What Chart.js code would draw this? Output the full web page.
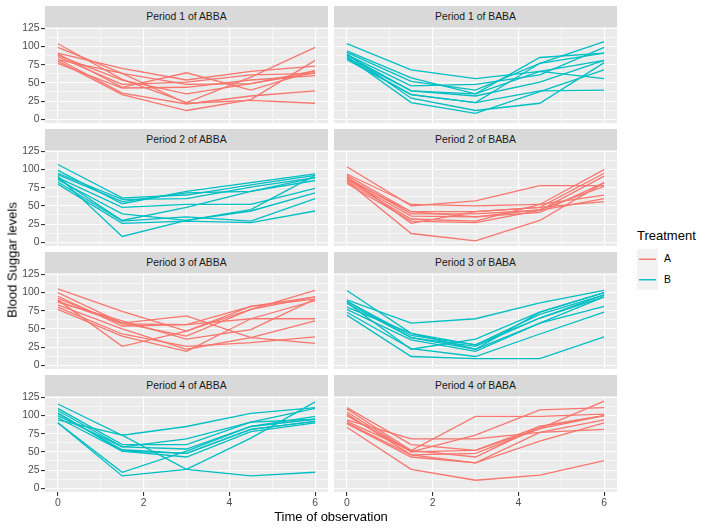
<!DOCTYPE html>
<html>
<head>
<meta charset="utf-8">
<script src="https://cdn.jsdelivr.net/npm/chart.js@4.4.1/dist/chart.umd.min.js"></script>
<style>
body { margin: 0; background: #fff; font-family: "Liberation Sans", Arial, sans-serif; }
#wrap { position: relative; width: 708px; height: 531px; overflow: hidden; }
#wrap canvas { position: absolute; }
.strip { position: absolute; background: #d9d9d9; color: #1a1a1a; font-size: 10.4px; text-align: center; height: 21px; line-height: 21px; }
.title { position: absolute; color: #000; font-size: 13px; white-space: nowrap; }
.keylab { position: absolute; font-size: 10.4px; color: #000; }
#legendKeys { position: absolute; left: 637px; top: 249px; }
</style>
</head>
<body>
<div id="wrap"></div>
<script>
// time points (x) and axis ticks
var times = [0, 1.5, 3, 4.5, 6];
var xTicks = [0, 1, 2, 3, 4, 5, 6];
var yTicks = [0, 12.5, 25, 37.5, 50, 62.5, 75, 87.5, 100, 112.5, 125];

var panelTitles = ['Period 1 of ABBA', 'Period 1 of BABA', 'Period 2 of ABBA', 'Period 2 of BABA',
                   'Period 3 of ABBA', 'Period 3 of BABA', 'Period 4 of ABBA', 'Period 4 of BABA'];
var panelTreatment = ['A', 'B', 'B', 'A', 'A', 'B', 'B', 'A'];
var treatments = ['A', 'B'];
var treatmentColors = { A: '#F8766D', B: '#00BFC4' };

// blood sugar per subject, read at times 0, 1.5, 3, 4.5, 6
var p1ABBA = [
    [104, 55, 23, 58, 99],
    [99, 63, 48, 49, 64],
    [91, 70, 54, 66, 73],
    [90, 44, 64, 40, 67],
    [86, 48, 51, 61, 63],
    [83, 36, 21, 32, 39],
    [80, 34, 12, 27, 81],
    [77, 43, 44, 54, 60],
    [88, 54, 35, 49, 67],
    [82, 63, 22, 26, 22]
];
var p1BABA = [
    [104, 68, 56, 66, 56],
    [94, 57, 35, 85, 91],
    [92, 52, 40, 77, 107],
    [89, 46, 48, 61, 99],
    [85, 39, 32, 51, 81],
    [82, 34, 23, 39, 40],
    [90, 29, 12, 22, 78],
    [86, 23, 8, 38, 68],
    [88, 39, 35, 66, 81],
    [84, 34, 23, 77, 91]
];
var p2ABBA = [
    [107, 61, 65, 79, 92],
    [99, 53, 70, 82, 94],
    [95, 59, 60, 76, 89],
    [93, 56, 68, 70, 85],
    [89, 48, 52, 52, 74],
    [86, 39, 30, 43, 68],
    [83, 29, 35, 29, 60],
    [80, 26, 29, 27, 43],
    [91, 8, 30, 45, 92],
    [88, 30, 48, 70, 89]
];
var p2BABA = [
    [104, 50, 57, 78, 78],
    [94, 52, 50, 52, 100],
    [92, 42, 42, 48, 95],
    [89, 39, 39, 44, 91],
    [86, 36, 35, 41, 82],
    [84, 32, 29, 52, 65],
    [81, 29, 27, 44, 60],
    [90, 26, 42, 48, 56],
    [84, 12, 2, 30, 82],
    [87, 42, 35, 45, 77]
];
var p3ABBA = [
    [105, 74, 47, 77, 103],
    [100, 58, 68, 38, 30],
    [95, 54, 56, 64, 64],
    [90, 26, 47, 81, 94],
    [87, 61, 36, 49, 91],
    [83, 50, 22, 38, 61],
    [80, 43, 26, 31, 39],
    [77, 40, 19, 64, 89],
    [88, 58, 40, 77, 94],
    [92, 57, 56, 81, 91]
];
var p3BABA = [
    [103, 44, 22, 73, 100],
    [90, 58, 64, 86, 103],
    [88, 41, 28, 70, 97],
    [85, 38, 26, 65, 94],
    [77, 35, 19, 58, 81],
    [73, 23, 12, 43, 73],
    [69, 12, 9, 9, 39],
    [86, 22, 36, 73, 100],
    [80, 44, 28, 65, 97],
    [88, 38, 22, 58, 94]
];
var p4ABBA = [
    [116, 73, 85, 103, 111],
    [110, 60, 60, 91, 110],
    [107, 57, 54, 85, 95],
    [103, 53, 48, 81, 92],
    [97, 51, 43, 78, 90],
    [94, 73, 26, 17, 22],
    [90, 22, 51, 85, 99],
    [90, 17, 26, 69, 119],
    [100, 57, 68, 91, 95],
    [104, 51, 48, 81, 92]
];
var p4BABA = [
    [111, 60, 52, 85, 100],
    [109, 52, 99, 99, 102],
    [105, 50, 73, 108, 111],
    [102, 46, 48, 82, 120],
    [94, 68, 68, 77, 94],
    [92, 52, 43, 85, 100],
    [89, 43, 35, 65, 90],
    [84, 26, 11, 18, 38],
    [90, 46, 35, 77, 81],
    [100, 50, 52, 82, 100]
];
var panelData = [p1ABBA, p1BABA, p2ABBA, p2BABA, p3ABBA, p3BABA, p4ABBA, p4BABA];

// layout in pixels
var rowTops = [27, 150, 273, 396];
var panelH = 96;
var colLeft = [0, 334];
var colWidth = [328, 283];
var yAxisW = 45;
var padT = 8, padB = 8, xAxisH = 20;

var panelBg = {
    id: 'panelBg',
    beforeDraw: function (chart) {
        var a = chart.chartArea, c = chart.ctx;
        c.save();
        c.fillStyle = '#ebebeb';
        c.fillRect(a.left, a.top, a.right - a.left, a.bottom - a.top);
        c.restore();
    }
};

var wrap = document.getElementById('wrap');

function addDiv(cls, text, css) {
    var d = document.createElement('div');
    d.className = cls;
    if (text) d.textContent = text;
    for (var k in css) d.style[k] = css[k];
    wrap.appendChild(d);
    return d;
}

for (var i = 0; i < panelData.length; i++) {
    var row = Math.floor(i / 2);
    var col = i % 2;
    var bottomRow = row === 3;
    var leftCol = col === 0;

    var cv = document.createElement('canvas');
    var h = panelH + padT + (bottomRow ? xAxisH : padB);
    cv.width = colWidth[col];
    cv.height = h;
    cv.style.left = colLeft[col] + 'px';
    cv.style.top = (rowTops[row] - padT) + 'px';
    cv.style.width = colWidth[col] + 'px';
    cv.style.height = h + 'px';
    wrap.appendChild(cv);

    var color = treatmentColors[panelTreatment[i]];
    var datasets = [];
    for (var s = 0; s < panelData[i].length; s++) {
        var vals = panelData[i][s];
        datasets.push({
            data: vals.map(function (v, j) { return { x: times[j], y: v }; }),
            borderColor: color,
            borderWidth: 1.3,
            pointRadius: 0,
            fill: false,
            tension: 0
        });
    }

    new Chart(cv.getContext('2d'), {
        type: 'line',
        data: { datasets: datasets },
        plugins: [panelBg],
        options: {
            responsive: false,
            animation: false,
            events: [],
            layout: { padding: { top: padT, bottom: bottomRow ? 0 : padB, left: 0, right: 0 } },
            plugins: { legend: { display: false }, tooltip: { enabled: false } },
            scales: {
                x: {
                    type: 'linear',
                    min: -0.3,
                    max: 6.3,
                    border: { display: false },
                    grid: {
                        color: '#ffffff',
                        lineWidth: function (c) { return c.tick && c.tick.value % 2 === 0 ? 1.1 : 0.55; },
                        drawTicks: bottomRow,
                        tickLength: 4,
                        tickColor: function (c) { return c.tick && c.tick.value % 2 === 0 ? '#333333' : 'rgba(0,0,0,0)'; }
                    },
                    ticks: {
                        display: bottomRow,
                        autoSkip: false,
                        maxRotation: 0,
                        padding: 1,
                        color: '#4d4d4d',
                        font: { family: 'Liberation Sans', size: 10.4 },
                        callback: function (v) { return v % 2 === 0 ? v : ''; }
                    },
                    afterBuildTicks: function (sc) { sc.ticks = xTicks.map(function (v) { return { value: v }; }); },
                    afterFit: (function (b) {
                        return function (sc) {
                            sc.height = b ? xAxisH : 0;
                            sc.paddingLeft = 0; sc.paddingRight = 0; sc.paddingTop = 0; sc.paddingBottom = 0;
                        };
                    })(bottomRow)
                },
                y: {
                    min: -5.2,
                    max: 127,
                    border: { display: false },
                    grid: {
                        color: '#ffffff',
                        lineWidth: function (c) { return c.tick && c.tick.value % 25 === 0 ? 1.1 : 0.55; },
                        drawTicks: leftCol,
                        tickLength: 4,
                        tickColor: function (c) { return c.tick && c.tick.value % 25 === 0 ? '#333333' : 'rgba(0,0,0,0)'; }
                    },
                    ticks: {
                        display: leftCol,
                        autoSkip: false,
                        padding: 1.5,
                        color: '#4d4d4d',
                        font: { family: 'Liberation Sans', size: 10.4 },
                        callback: function (v) { return v % 25 === 0 ? v : ''; }
                    },
                    afterBuildTicks: function (sc) { sc.ticks = yTicks.map(function (v) { return { value: v }; }); },
                    afterFit: (function (l) {
                        return function (sc) {
                            sc.width = l ? yAxisW : 0;
                            sc.paddingLeft = 0; sc.paddingRight = 0; sc.paddingTop = 0; sc.paddingBottom = 0;
                        };
                    })(leftCol)
                }
            }
        }
    });

    // facet strip
    var stripLeft = colLeft[col] + (leftCol ? yAxisW : 0);
    var stripW = leftCol ? colWidth[col] - yAxisW : colWidth[col];
    addDiv('strip', panelTitles[i], { left: stripLeft + 'px', top: (rowTops[row] - 21) + 'px', width: stripW + 'px' });
}

// axis titles
addDiv('title', 'Time of observation', { left: '331px', top: '509px', transform: 'translateX(-50%)', lineHeight: '15px' });
addDiv('title', 'Blood Suggar levels', { left: '12px', top: '260px', lineHeight: '15px', transform: 'translate(-50%,-50%) rotate(-90deg)' });

// legend: key boxes drawn as svg, labels as text
addDiv('title', 'Treatment', { left: '637px', top: '228px', lineHeight: '15px' });
var svgNS = 'http://www.w3.org/2000/svg';
var svg = document.createElementNS(svgNS, 'svg');
svg.setAttribute('id', 'legendKeys');
svg.setAttribute('width', '21');
svg.setAttribute('height', '41');
for (var t = 0; t < treatments.length; t++) {
    var r = document.createElementNS(svgNS, 'rect');
    r.setAttribute('x', 0); r.setAttribute('y', t * 20.5);
    r.setAttribute('width', 21); r.setAttribute('height', 20.5);
    r.setAttribute('fill', '#f2f2f2');
    svg.appendChild(r);
    var ln = document.createElementNS(svgNS, 'line');
    ln.setAttribute('x1', 2); ln.setAttribute('x2', 19);
    ln.setAttribute('y1', t * 20.5 + 10.25); ln.setAttribute('y2', t * 20.5 + 10.25);
    ln.setAttribute('stroke', treatmentColors[treatments[t]]);
    ln.setAttribute('stroke-width', 1.4);
    svg.appendChild(ln);
    addDiv('keylab', treatments[t], { left: '664px', top: (249 + t * 20.5 + 4) + 'px', lineHeight: '12px' });
}
wrap.appendChild(svg);
</script>
</body>
</html>
